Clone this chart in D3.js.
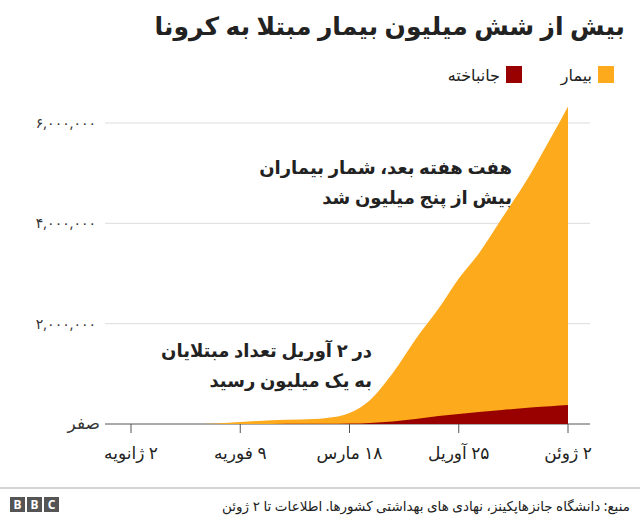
<!DOCTYPE html>
<html><head><meta charset="utf-8">
<script src="https://cdn.jsdelivr.net/npm/d3@7"></script>
<style>body{margin:0;background:#fff;font-family:"Noto Sans","DejaVu Sans",sans-serif}</style>
</head><body><div id="chart"></div>
<script>
const dates = ["2020-01-22","2020-02-01","2020-02-09","2020-02-20","2020-03-01","2020-03-10","2020-03-18","2020-03-25","2020-04-02","2020-04-10","2020-04-18","2020-04-25","2020-05-02","2020-05-10","2020-05-20","2020-05-27","2020-06-02"];
const cases = [555,12000,40000,76000,88000,119000,220000,470000,1010000,1690000,2300000,2900000,3400000,4100000,4990000,5700000,6330000];
const deaths = [17,260,900,2200,3000,4300,9000,22000,52000,100000,160000,200000,240000,280000,330000,355000,378000];
const xTicks = [["2020-01-02","۲ ژانویه"],["2020-02-09","۹ فوریه"],["2020-03-18","۱۸ مارس"],["2020-04-25","۲۵ آوریل"],["2020-06-02","۲ ژوئن"]];
const yTicks = [0,2000000,4000000,6000000];

const W=640,H=522;
const svg=d3.select("#chart").append("svg").attr("width",W).attr("height",H);
const parse=d3.utcParse("%Y-%m-%d");
const x=d3.scaleUtc().domain([parse("2020-01-02"),parse("2020-06-02")]).range([131,568]);
const y=d3.scaleLinear().domain([0,6000000]).range([424,123]);
const fa=n=>d3.format(",")(n).replace(/\d/g,c=>"۰۱۲۳۴۵۶۷۸۹"[c]);

// rtl text: "start" anchors at the right edge
const rtl=(px,py,t,size,bold)=>svg.append("text").attr("x",px).attr("y",py).attr("direction","rtl")
  .attr("text-anchor","start").attr("font-size",size).attr("font-weight",bold?"bold":"normal").attr("fill","#222").text(t);

rtl(625,35,"بیش از شش میلیون بیمار مبتلا به کرونا",25,true);

const leg=[["بیمار","#fdaa1c",598],["جانباخته","#990000",506]];
leg.forEach(([t,c,lx])=>{
  svg.append("rect").attr("x",lx).attr("y",66).attr("width",16).attr("height",17).attr("fill",c);
  rtl(lx-6,81,t,16,false);
});

yTicks.forEach(v=>{
  svg.append("line").attr("x1",105).attr("x2",590).attr("y1",y(v)).attr("y2",y(v))
    .attr("stroke",v?"#ddd":"#555").attr("stroke-width",1);
  svg.append("text").attr("x",v?96:100).attr("y",y(v)+5).attr("text-anchor","end")
    .attr("font-size",v?14:17).attr("fill","#333").text(v?fa(v):"صفر");
});

const data=dates.map((d,i)=>({d:parse(d),c:cases[i],k:deaths[i]}));
svg.append("path").datum(data).attr("fill","#fdaa1c")
  .attr("d",d3.area().x(d=>x(d.d)).y0(y(0)).y1(d=>y(d.c)).curve(d3.curveMonotoneX));
svg.append("path").datum(data).attr("fill","#990000")
  .attr("d",d3.area().x(d=>x(d.d)).y0(y(0)).y1(d=>y(d.k)).curve(d3.curveMonotoneX));

xTicks.forEach(([d,t])=>{
  const px=x(parse(d));
  svg.append("line").attr("x1",px).attr("x2",px).attr("y1",424).attr("y2",433).attr("stroke","#555");
  svg.append("text").attr("x",px).attr("y",459).attr("text-anchor","middle").attr("direction","rtl")
    .attr("font-size",17).attr("fill","#222").text(t);
});

const note=(lines,rx,ty)=>lines.forEach((l,i)=>rtl(rx,ty+i*30,l,18,true));
note(["هفت هفته بعد، شمار بیماران","بیش از پنج میلیون شد"],512,174);
note(["در ۲ آوریل تعداد مبتلایان","به یک میلیون رسید"],372,357);

svg.append("line").attr("x1",0).attr("x2",640).attr("y1",488).attr("y2",488).attr("stroke","#aaa");
rtl(630,511,"منبع: دانشگاه جانزهاپکینز، نهادی های بهداشتی کشورها. اطلاعات تا ۲ ژوئن",13.5,false);
["B","B","C"].forEach((c,i)=>{
  svg.append("rect").attr("x",10+i*17).attr("y",497).attr("width",15).attr("height",15).attr("fill","#555");
  svg.append("text").attr("x",17.5+i*17).attr("y",509).attr("text-anchor","middle").attr("font-size",12)
    .attr("font-weight","bold").attr("fill","#fff").text(c);
});
</script></body></html>
